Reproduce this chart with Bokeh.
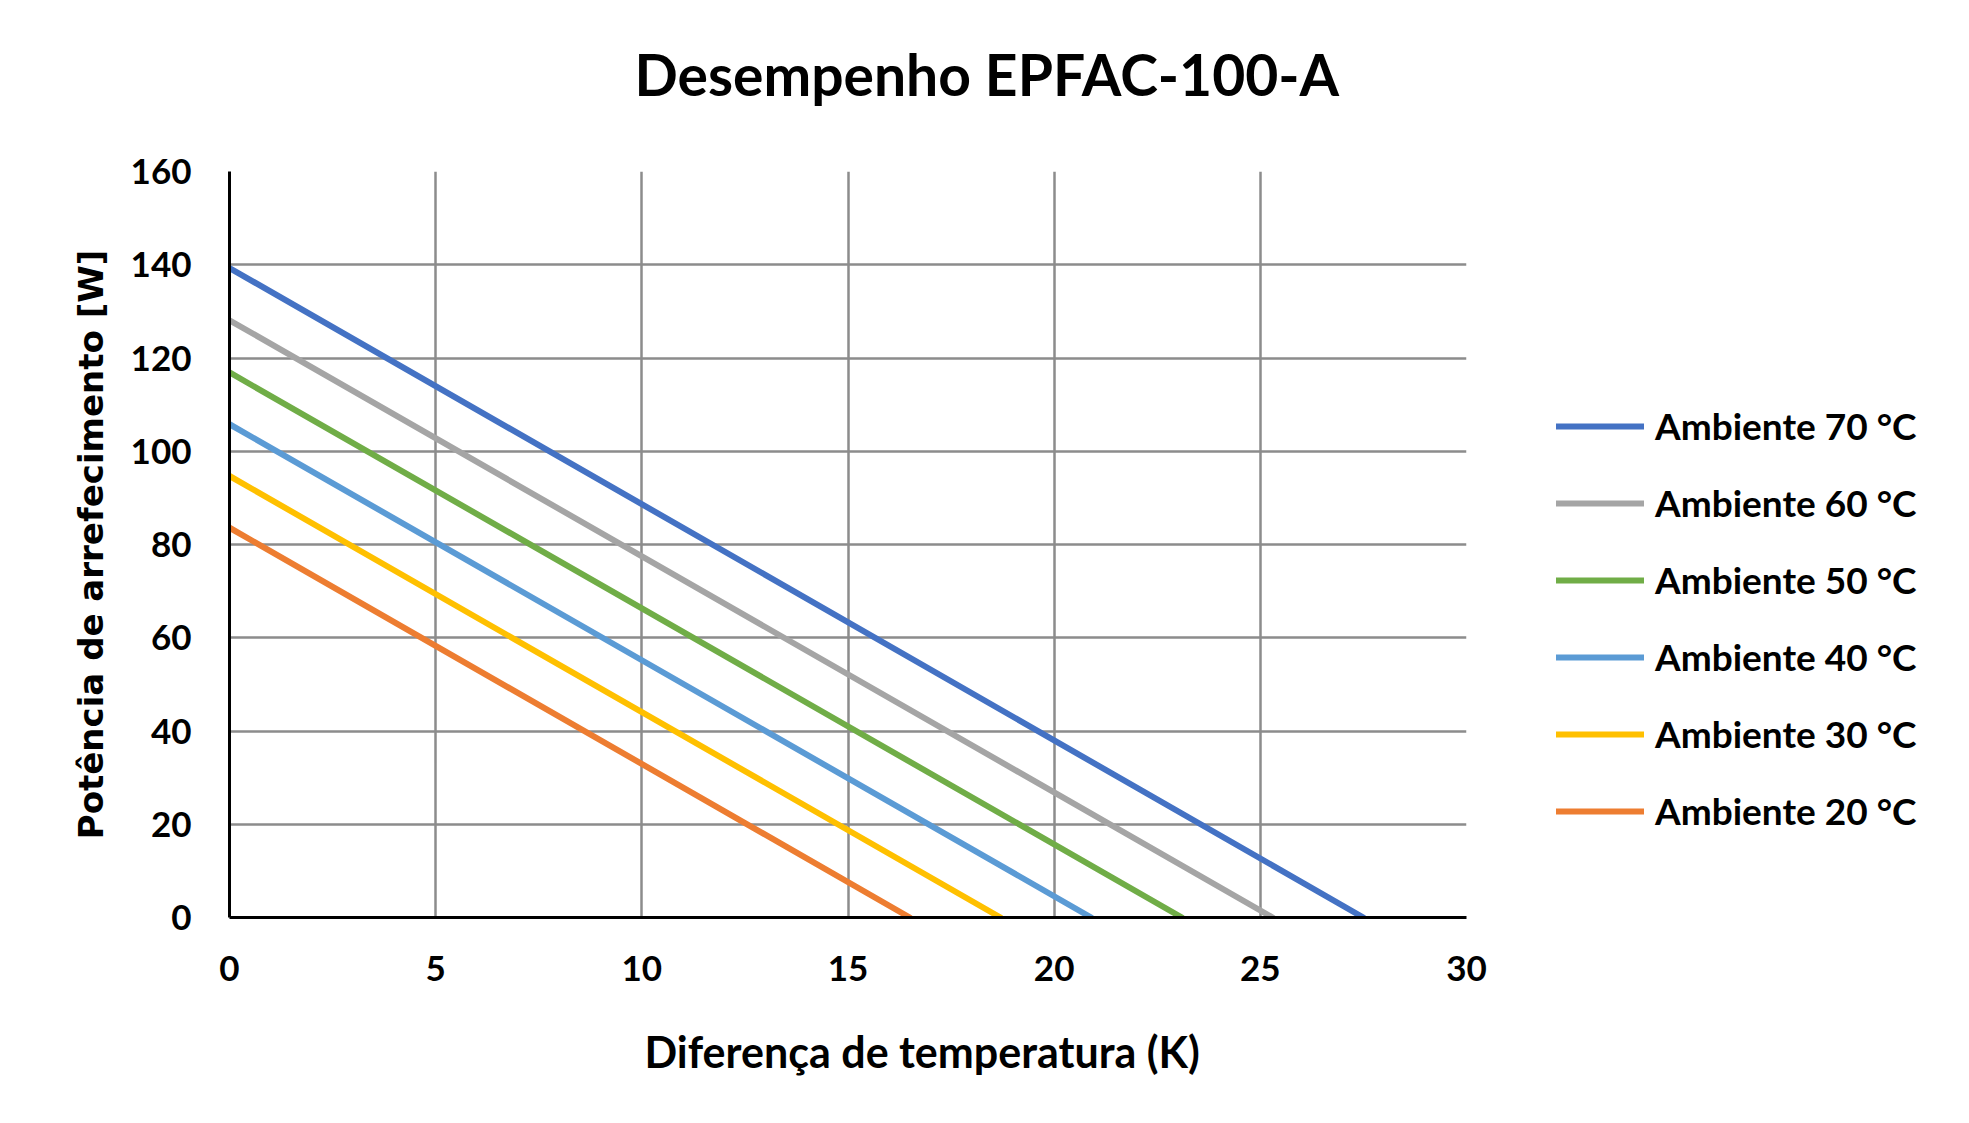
from bokeh.plotting import figure
from bokeh.models import Range1d, FixedTicker, Title
from bokeh.embed import file_html
from bokeh.resources import INLINE

# ---- data ----
series_names = ["Ambiente 70 °C", "Ambiente 60 °C", "Ambiente 50 °C",
                "Ambiente 40 °C", "Ambiente 30 °C", "Ambiente 20 °C"]
series_colors = ["#4472C4", "#A5A5A5", "#70AD47", "#5B9BD5", "#FFC000", "#ED7D31"]
power_at_zero = [139.3, 128.1, 116.9, 105.8, 94.7, 83.6]      # W at dT = 0
dt_at_zero_power = [27.5, 25.3, 23.1, 20.9, 18.7, 16.5]       # K at 0 W
x_ticks = [0, 5, 10, 15, 20, 25, 30]
y_ticks = [0, 20, 40, 60, 80, 100, 120, 140, 160]

title_text = "Desempenho EPFAC-100-A"
x_label = "Diferença de temperatura (K)"
y_label = "Potência de arrefecimento [W]"

FW, FH = 1237, 746
BL, BT = 229, 171
W, H = 1953, 1107

p = figure(frame_width=FW, frame_height=FH,
           min_border_left=BL, min_border_top=BT,
           min_border_right=W - BL - FW, min_border_bottom=H - BT - FH,
           x_range=Range1d(0, 30), y_range=Range1d(0, 160),
           output_backend="svg", toolbar_location=None, title=None)
p.outline_line_color = None
p.background_fill_color = "white"
p.border_fill_color = "white"

for name, col, q0, dtm in zip(series_names, series_colors, power_at_zero, dt_at_zero_power):
    p.line([0, dtm], [q0, 0], line_color=col, line_width=6,
           line_cap="round", legend_label=name)

# grid
for g in (p.xgrid, p.ygrid):
    g.grid_line_color = "#8c8c8c"
    g.grid_line_width = 2.5
p.xgrid.ticker = FixedTicker(ticks=x_ticks)
p.ygrid.ticker = FixedTicker(ticks=y_ticks)

# axes
p.xaxis.ticker = FixedTicker(ticks=x_ticks)
p.yaxis.ticker = FixedTicker(ticks=y_ticks)
for ax in (p.xaxis[0], p.yaxis[0]):
    ax.axis_line_color = "black"
    ax.axis_line_width = 3
    ax.major_tick_line_color = None
    ax.minor_tick_line_color = None
    ax.major_tick_out = 0
    ax.major_tick_in = 0
    ax.major_label_text_font = "Lato"
    ax.major_label_text_font_style = "bold"
    ax.major_label_text_font_size = "35px"
    ax.major_label_text_color = "black"
p.xaxis.major_label_standoff = 38
p.yaxis.major_label_standoff = 38

p.yaxis.axis_label = y_label
p.yaxis.axis_label_text_font = "DejaVu Sans"
p.yaxis.axis_label_text_font_style = "bold"
p.yaxis.axis_label_text_font_size = "34px"
p.yaxis.axis_label_text_color = "black"
p.yaxis.axis_label_standoff = 17

# title: a blank spacer next to the frame, then the title
p.add_layout(Title(text=" ", text_font_size="55px", standoff=0), "above")
p.add_layout(Title(text=title_text, text_font="Lato", text_font_style="bold",
                   text_font_size="57px", text_color="black", align="left",
                   offset=405, standoff=0), "above")

# x-axis label below a small spacer
p.add_layout(Title(text=" ", text_font_size="25px", standoff=0), "below")
p.add_layout(Title(text=x_label, text_font="Lato", text_font_style="bold",
                   text_font_size="43px", text_color="black", align="left",
                   offset=415, standoff=20), "below")

# legend in the right panel
lg = p.legend[0]
p.center.remove(lg)
p.add_layout(lg, "right")
lg.location = (90, 84)
lg.orientation = "vertical"
lg.border_line_color = None
lg.background_fill_alpha = 0
lg.padding = 0
lg.margin = 0
lg.glyph_width = 88
lg.glyph_height = 40
lg.label_height = 40
lg.spacing = 32
lg.label_standoff = 11
lg.label_text_font = "Lato"
lg.label_text_font_style = "bold"
lg.label_text_font_size = "37px"
lg.label_text_color = "black"

open("out.html", "w").write(file_html(p, INLINE))
